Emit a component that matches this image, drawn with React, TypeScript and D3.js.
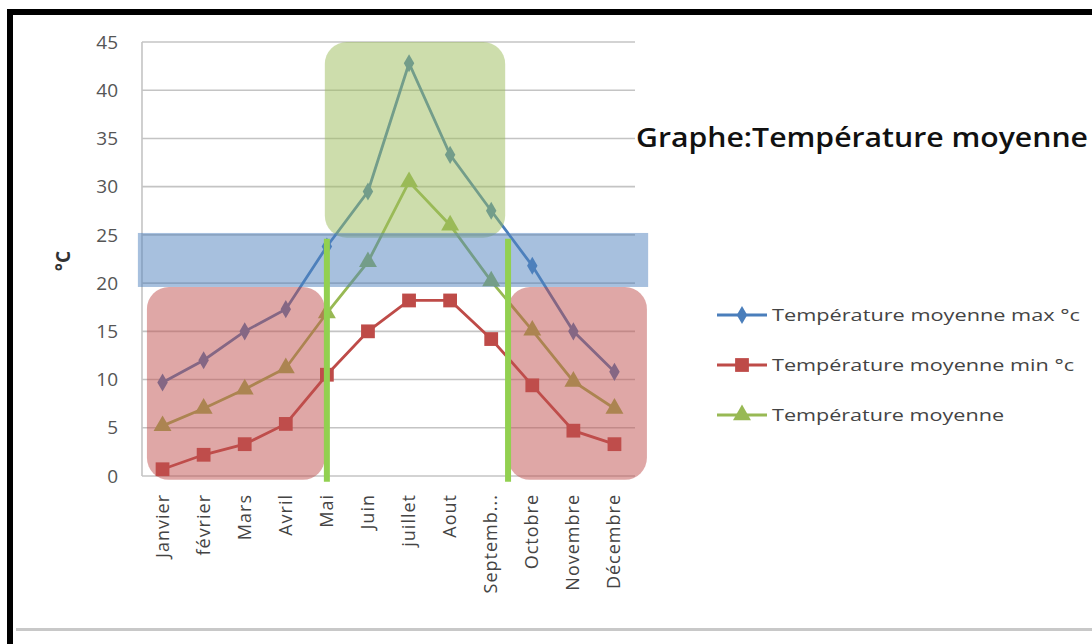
import React from "react";
import * as d3 from "d3";

const months = ["Janvier", "février", "Mars", "Avril", "Mai", "Juin", "juillet", "Aout", "Septemb...", "Octobre", "Novembre", "Décembre"];
const tMax = [9.7, 12, 15, 17.3, 23.8, 29.5, 42.8, 33.3, 27.5, 21.8, 15, 10.8];
const tMin = [0.7, 2.2, 3.3, 5.4, 10.5, 15, 18.2, 18.2, 14.2, 9.4, 4.7, 3.3];
const tMoy = [5.2, 7, 9, 11.2, 16.9, 22.2, 30.5, 26, 20.2, 15.1, 9.8, 7];
const yTicks = [0, 5, 10, 15, 20, 25, 30, 35, 40, 45];
const seriesNames = ["Température moyenne max °c", "Température moyenne min °c", "Température moyenne"];
const title = "Graphe:Température moyenne";
const yLabel = "°C";

// annotation regions in data units (category index, °C)
const zones = [
  { x0: 3.95, x1: 8.34, y0: 24.7, y1: 45, color: "rgba(155,187,89,0.5)", r: 22 },
  { x0: -0.6, x1: 11.82, y0: 19.6, y1: 25.2, color: "rgba(79,129,189,0.5)", r: 0 },
  { x0: -0.38, x1: 3.95, y0: -0.4, y1: 19.6, color: "rgba(192,80,77,0.5)", r: 22 },
  { x0: 8.41, x1: 11.79, y0: -0.4, y1: 19.6, color: "rgba(192,80,77,0.5)", r: 22 },
];
const markLines = [4.0, 8.41];

const colors = ["#4a7ebb", "#be4b48", "#98b954"];

export default function App() {
  const left = 142, right = 635, top = 42, bottom = 476;
  const x = d3.scaleLinear().domain([-0.5, 11.5]).range([left, right]);
  const y = d3.scaleLinear().domain([0, 45]).range([bottom, top]);
  const line = d3.line<number>().x((_, i) => x(i)).y((d) => y(d));
  const series = [tMax, tMin, tMoy];
  const diamond = d3.symbol(d3.symbolDiamond, 95)();
  const square = d3.symbol(d3.symbolSquare, 190)();
  const triangle = d3.symbol(d3.symbolTriangle, 140)();
  const syms = [diamond, square, triangle];
  const font = "'Open Sans', 'DejaVu Sans', sans-serif";

  return (
    <svg width={1092} height={644} style={{ position: "absolute", left: 0, top: 0, background: "#fff" }} fontFamily={font}>
      <rect x={0} y={0} width={1092} height={644} fill="#fff" />
      {/* frame */}
      <rect x={7} y={9} width={1085} height={6} fill="#000" />
      <rect x={7} y={9} width={6} height={635} fill="#000" />
      <rect x={16} y={628} width={1076} height={3} fill="#c8c8c8" />

      {/* gridlines */}
      {yTicks.map((t) => (
        <line key={t} x1={left} x2={right} y1={y(t)} y2={y(t)} stroke="#c4c4c4" strokeWidth={1.6} />
      ))}
      <line x1={left} x2={left} y1={top} y2={bottom} stroke="#c4c4c4" strokeWidth={1.6} />
      {yTicks.map((t) => (
        <text key={t} x={118} y={y(t)} dy="0.35em" textAnchor="end" fontSize={19} fill="#555">{t}</text>
      ))}
      <text transform={`translate(70,${y(22.5) + 2}) rotate(-90)`} textAnchor="middle" fontSize={19} fontWeight="bold" fill="#333">{yLabel}</text>

      {months.map((m, i) => (
        <text key={m} transform={`translate(${x(i) + 6},494) rotate(-90)`} textAnchor="end" fontSize={18} letterSpacing={1} fill="#444">{m}</text>
      ))}

      {/* series */}
      {series.map((s, k) => (
        <g key={k}>
          <path d={line(s) || ""} fill="none" stroke={colors[k]} strokeWidth={2.8} />
          {s.map((v, i) => (
            <path key={i} d={syms[k]} transform={`translate(${x(i)},${y(v)})`} fill={colors[k]} />
          ))}
        </g>
      ))}

      {/* zones */}
      {zones.map((z, i) => (
        <rect key={i} x={x(z.x0)} y={y(z.y1)} width={x(z.x1) - x(z.x0)} height={y(z.y0) - y(z.y1)} rx={z.r} ry={z.r} fill={z.color} />
      ))}
      {markLines.map((v, i) => (
        <line key={i} x1={x(v)} x2={x(v)} y1={y(24.6)} y2={y(-0.6)} stroke="#92d050" strokeWidth={6} />
      ))}

      {/* title */}
      <text x={636} y={147} fontSize={27} fontWeight={600} fill="#111" textLength={452} lengthAdjust="spacingAndGlyphs">{title}</text>

      {/* legend */}
      {seriesNames.map((n, k) => {
        const ly = 315 + k * 50;
        return (
          <g key={n}>
            <line x1={717} x2={767} y1={ly} y2={ly} stroke={colors[k]} strokeWidth={2.8} />
            <path d={syms[k]} transform={`translate(742,${ly})`} fill={colors[k]} />
            <text x={772} y={ly + 6} fontSize={17} fill="#444" textLength={[308, 302, 232][k]} lengthAdjust="spacingAndGlyphs">{n}</text>
          </g>
        );
      })}
    </svg>
  );
}
